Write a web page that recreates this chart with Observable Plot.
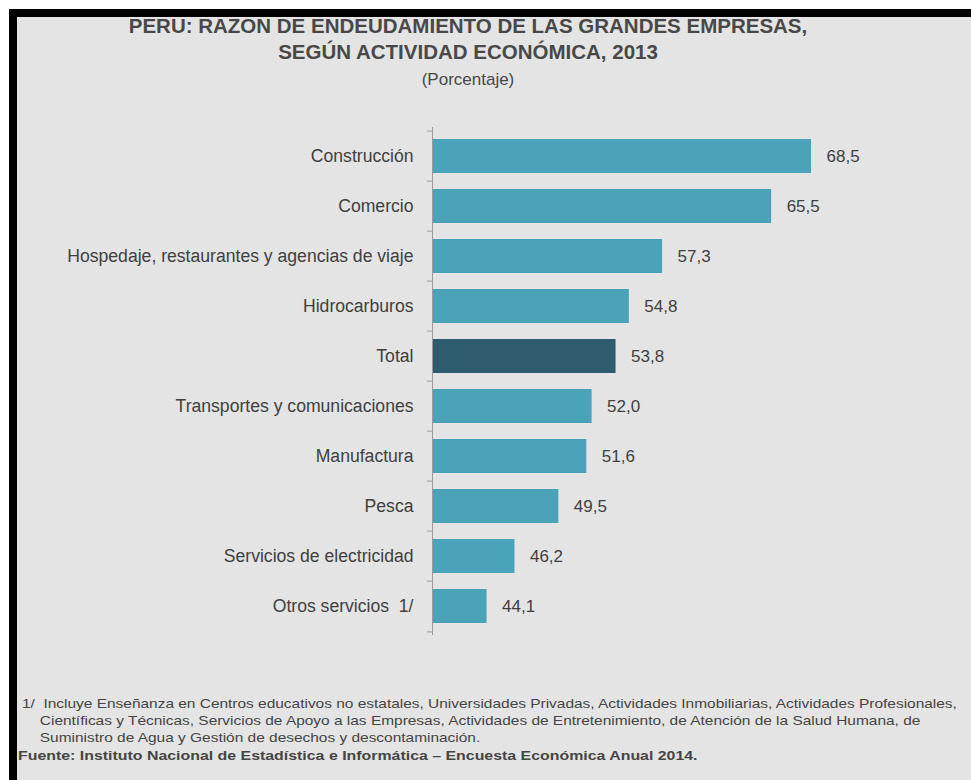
<!DOCTYPE html>
<html>
<head>
<meta charset="utf-8">
<script src="https://cdn.jsdelivr.net/npm/d3@7"></script>
<script src="https://cdn.jsdelivr.net/npm/@observablehq/plot@0.6"></script>
<style>
  html, body { margin: 0; padding: 0; background: #ffffff; width: 971px; height: 780px; overflow: hidden; }
  #frame { position: absolute; left: 9px; top: 9px; width: 962px; height: 771px; box-sizing: border-box;
           border-top: 8px solid #000; border-left: 8px solid #000; background: #e4e4e4; }
  .t { position: absolute; left: 0; width: 936px; text-align: center; font-family: "Liberation Sans", Arial, sans-serif; color: #484848; white-space: nowrap; }
  #title { top: 13px; font-size: 20.5px; font-weight: bold; line-height: 26px; }
  #sub { top: 67px; font-size: 17px; line-height: 25px; }
  #chart { position: absolute; left: 0; top: 107px; }
  #note { position: absolute; left: 22px; top: 695px; font-family: "Liberation Sans", Arial, sans-serif; font-size: 13px; line-height: 17px; color: #454545; white-space: nowrap; transform: scaleX(1.188); transform-origin: 0 0; }
  #note .ind { padding-left: 15px; }
  #src { position: absolute; left: 18px; top: 748px; font-family: "Liberation Sans", Arial, sans-serif; font-size: 13.4px; font-weight: bold; color: #454545; white-space: nowrap; transform: scaleX(1.187); transform-origin: 0 0; }
</style>
</head>
<body>
<div id="frame"></div>
<div class="t" id="title">PERU: RAZON DE ENDEUDAMIENTO DE LAS GRANDES EMPRESAS,<br>SEGÚN ACTIVIDAD ECONÓMICA, 2013</div>
<div class="t" id="sub">(Porcentaje)</div>
<div id="chart"></div>
<div id="note">1/&nbsp; Incluye Enseñanza en Centros educativos no estatales, Universidades Privadas, Actividades Inmobiliarias, Actividades Profesionales,<br><span class="ind">Científicas y Técnicas, Servicios de Apoyo a las Empresas, Actividades de Entretenimiento, de Atención de la Salud Humana, de</span><br><span class="ind">Suministro de Agua y Gestión de desechos y descontaminación.</span></div>
<div id="src">Fuente: Instituto Nacional de Estadística e Informática – Encuesta Económica Anual 2014.</div>
<script>
const categories = [
  "Construcción",
  "Comercio",
  "Hospedaje, restaurantes y agencias de viaje",
  "Hidrocarburos",
  "Total",
  "Transportes y comunicaciones",
  "Manufactura",
  "Pesca",
  "Servicios de electricidad",
  "Otros servicios\u00a0 1/"
];
const values = [68.5, 65.5, 57.3, 54.8, 53.8, 52.0, 51.6, 49.5, 46.2, 44.1];
const highlight = "Total";

const data = categories.map((c, i) => ({category: c, value: values[i]}));
const fmt = v => v.toFixed(1).replace(".", ",");

const H = 538, MT = 20, MB = 10;
const step = (H - MT - MB) / categories.length;

const chart = Plot.plot({
  width: 971,
  height: H,
  marginLeft: 432,
  marginRight: 7,
  marginTop: MT,
  marginBottom: MB,
  style: {background: "transparent", color: "#404040", fontFamily: "Liberation Sans, Arial, sans-serif"},
  x: {domain: [40, 80], axis: null},
  y: {domain: categories, paddingInner: 0.33, paddingOuter: 0.165, label: null},
  marks: [
    Plot.barX(data, {x1: 40, x2: "value", y: "category",
      fill: d => d.category === highlight ? "#2f5c6c" : "#4aa3b9"}),
    Plot.ruleX([40], {stroke: "#9a9a9a"}),
    Plot.ruleY(categories, {y: d => d, x1: 39.62, x2: 40, dy: -step / 2, stroke: "#9a9a9a"}),
    Plot.ruleY(categories.slice(-1), {y: d => d, x1: 39.62, x2: 40, dy: step / 2, stroke: "#9a9a9a"}),
    Plot.axisY({tickSize: 0, tickPadding: 19, fontSize: 17.6, label: null}),
    Plot.text(data, {x: "value", y: "category", text: d => fmt(d.value), dx: 15,
      textAnchor: "start", fontSize: 17, fill: "#404040"})
  ]
});
document.getElementById("chart").appendChild(chart);
</script>
</body>
</html>
